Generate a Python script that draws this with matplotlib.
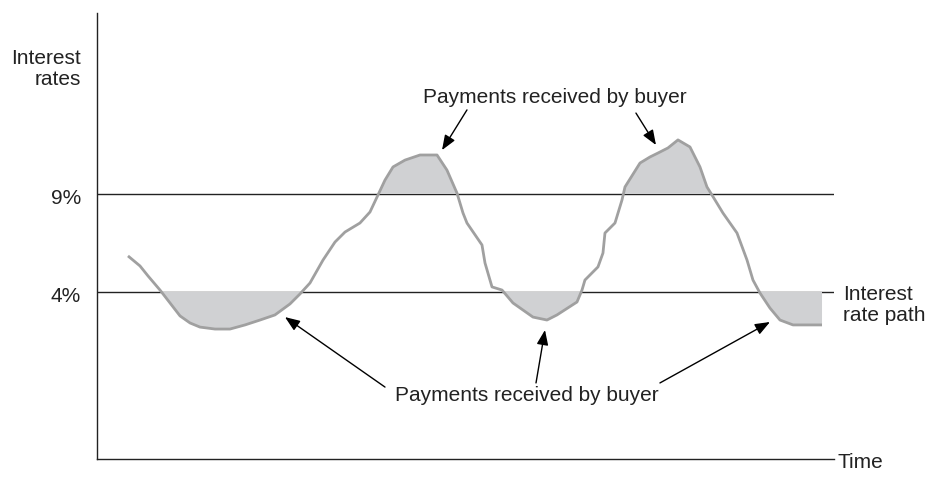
import matplotlib
matplotlib.use("Agg")
import matplotlib.pyplot as plt
import numpy as np

plt.rcParams['font.family'] = ['Liberation Sans', 'DejaVu Sans']

# Interest rate path (time units 0-100, rate in %)
time = [4.21, 5.84, 6.93, 8.56, 9.92, 11.28, 12.64, 13.99, 16.03, 18.07, 20.11, 22.15,
        24.18, 26.22, 27.58, 28.94, 30.71, 32.34, 33.70, 35.73, 37.09, 38.18, 39.13,
        40.22, 41.85, 43.89, 46.20, 47.55, 48.91, 49.73, 50.27, 52.31, 52.72, 53.67,
        55.03, 56.52, 59.24, 61.14, 62.50, 65.22, 65.90, 66.30, 68.07, 68.75, 69.02,
        70.38, 71.33, 71.74, 73.78, 75.14, 76.22, 77.58, 78.94, 80.57, 81.93, 82.88,
        83.56, 85.05, 86.96, 88.32, 89.13, 90.08, 91.44, 92.80, 94.57, 98.51]
rate = [5.84, 5.33, 4.82, 4.10, 3.44, 2.78, 2.42, 2.21, 2.11, 2.11, 2.32, 2.57,
        2.83, 3.39, 3.90, 4.46, 5.63, 6.55, 7.06, 7.52, 8.08, 8.95, 9.71,
        10.38, 10.73, 10.99, 10.99, 10.22, 9.05, 8.03, 7.52, 6.40, 5.48, 4.26,
        4.10, 3.44, 2.72, 2.57, 2.83, 3.49, 4.10, 4.61, 5.28, 5.99, 7.01,
        7.52, 8.69, 9.36, 10.58, 10.89, 11.09, 11.35, 11.76, 11.40, 10.38, 9.36,
        8.95, 8.03, 7.01, 5.63, 4.61, 3.95, 3.18, 2.57, 2.32, 2.32]
cap = 9.0
floor = 4.0
level_labels = ["9%", "4%"]
note = "Payments received by buyer"

t = np.array(time)
r = np.array(rate)

fig = plt.figure(figsize=(9.34, 4.95), dpi=100)
ax = fig.add_axes([97/934, 1-459/495, (834-97)/934, (459-13)/495])
ax.set_xlim(0, 100.14)
ax.set_ylim(4 - 167/19.6, 9 + 181/19.6)

for s in ['top', 'right']:
    ax.spines[s].set_visible(False)
for s in ['left', 'bottom']:
    ax.spines[s].set_linewidth(1.0)
    ax.spines[s].set_color('#222222')
ax.set_xticks([])
ax.set_yticks([])

ax.axhline(cap, color='#222222', lw=1.0, zorder=1)
ax.axhline(floor, color='#222222', lw=1.0, zorder=1)

ax.fill_between(t, r, cap, where=r >= cap, interpolate=True, color='#d0d1d3', lw=0, zorder=2)
ax.fill_between(t, r, floor, where=r <= floor, interpolate=True, color='#d0d1d3', lw=0, zorder=2)
ax.plot(t, r, color='#a0a0a0', lw=2.0, zorder=3, solid_capstyle='butt')

fs = 15
ax.text(62.2, 13.9, note, ha='center', va='center', fontsize=fs, color='#222222')
ax.text(58.4, -1.3, note, ha='center', va='center', fontsize=fs, color='#222222')

ap = dict(arrowstyle='-|>,head_length=0.9,head_width=0.35', color='black', lw=1.0,
          shrinkA=0, shrinkB=0)
arrows = [((50.27, 13.29), (46.88, 11.24)),
          ((73.23, 13.13), (75.95, 11.50)),
          ((39.13, -0.85), (25.54, 2.72)),
          ((59.65, -0.64), (60.87, 2.06)),
          ((76.49, -0.64), (91.44, 2.47))]
for start, end in arrows:
    ax.annotate('', xy=end, xytext=start, arrowprops=ap)

# axis labels
fig.text(81/934, 1-69/495, "Interest\nrates", ha='right', va='center', fontsize=fs,
         color='#222222', linespacing=1.1)
fig.text(81/934, 1-199/495, level_labels[0], ha='right', va='center', fontsize=fs, color='#222222')
fig.text(81/934, 1-296/495, level_labels[1], ha='right', va='center', fontsize=fs, color='#222222')
fig.text(843/934, 1-305/495, "Interest\nrate path", ha='left', va='center', fontsize=fs,
         color='#222222', linespacing=1.1)
fig.text(838/934, 1-463/495, "Time", ha='left', va='center', fontsize=fs, color='#222222')

fig.savefig('out.png', dpi=100)
